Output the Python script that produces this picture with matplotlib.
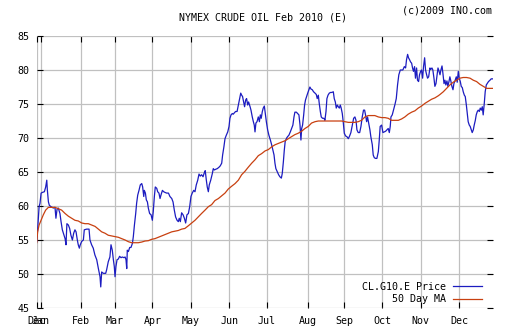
import matplotlib
matplotlib.use("Agg")
import matplotlib.pyplot as plt

# ========================== 資料 ========================== #
# x = trading-day index from the first bar (late Dec 2008)
price_day = [
    0, 0.5, 1.3, 1.8, 2.4, 3.1, 4.2, 4.9, 5.5, 5.8,
    6.4, 6.9, 7.8, 9.1, 10.0, 10.5, 11.1, 11.8, 12.7, 13.3,
    14.0, 14.9, 15.5, 16.0, 16.5, 17.3, 18.0, 18.7, 19.5, 20.2,
    20.9, 21.5, 22.2, 22.7, 23.3, 23.8, 24.6, 25.5, 26.0, 27.3,
    28.6, 29.1, 30.0, 30.9, 31.8, 32.8, 33.7, 34.6, 35.0, 35.5,
    36.4, 37.7, 38.2, 39.1, 40.0, 40.6, 41.3, 41.9, 42.4,
    42.8, 43.3, 43.9, 44.6, 45.3, 46.1, 46.8, 47.7, 48.3, 48.8,
    49.2, 49.5, 50.1, 50.8, 51.5, 52.3, 52.8, 53.4, 54.1, 54.6,
    55.2, 55.9, 56.6, 57.4, 57.9, 58.5, 58.8, 59.4, 59.9, 60.5,
    61.0, 61.7, 62.5, 63.2, 63.7, 64.3, 64.8, 65.6, 66.1, 66.8,
    67.4, 67.9, 68.7, 69.4, 70.1, 71.0, 72.0, 72.8, 73.8, 74.5,
    75.2, 75.9, 76.7, 77.4, 77.9, 78.5, 79.2, 80.0, 80.7, 81.4,
    82.1, 82.9, 83.6, 84.3, 85.0, 85.8,
    86.5, 87.2, 88.0, 88.7, 89.4, 90.1, 90.9, 91.6, 92.1, 92.7,
    93.2, 93.8, 94.3, 95.1, 96.0, 96.5, 97.1, 97.8, 98.7, 99.6,
    100.3, 101.1, 101.6, 102.3, 102.9, 103.6, 104.4, 105.1, 105.6, 106.2,
    106.9, 107.4, 108.0, 108.7, 109.5, 110.2, 110.7, 111.5, 112.0, 112.5,
    113.1, 113.6, 114.2, 114.7, 115.3, 115.8, 116.6, 117.1, 117.8, 118.4,
    118.9, 119.3, 119.8, 120.4, 121.1, 121.7, 122.2, 122.7, 123.3, 123.8,
    124.4, 124.9, 125.5, 126.2, 126.9, 127.7, 128.4, 129.1, 129.7,
    130.2, 130.7, 131.5, 132.2, 132.9, 133.7, 134.2, 134.8, 135.3, 135.8,
    136.6, 137.1, 137.8, 138.6, 139.3, 140.0, 140.6, 141.1, 141.9, 142.6,
    143.3, 143.9, 144.4, 144.8, 145.3, 145.9, 146.4, 146.9, 147.5, 148.1,
    148.8, 149.3, 149.9, 150.6, 151.3, 152.1, 152.8, 153.3, 153.9, 154.4,
    155.0, 155.5, 156.2, 157.0, 157.5, 158.1, 158.6, 159.2, 159.9, 160.6,
    161.3, 162.1, 162.6, 163.2, 163.7, 164.3, 164.8, 165.4, 165.9, 166.4,
    167.0, 167.5, 168.1, 168.8, 169.5, 170.3, 171.0, 171.7, 172.5, 173.2,
    173.9, 174.5, 175.0, 175.7, 176.5, 177.2, 177.9, 178.6, 179.2, 179.7,
    180.3, 180.8, 181.6, 182.1, 182.6, 183.4, 183.9, 184.5, 185.2, 185.9,
    186.7, 187.2, 187.7, 188.5, 189.2, 189.9, 190.7, 191.4, 192.1, 192.7,
    193.2, 193.6, 194.3, 195.0, 195.8, 196.5, 197.2, 197.9, 198.7, 199.4,
    200.1, 200.9, 201.6, 202.1, 202.7, 203.2, 203.8, 204.3, 204.9, 205.4,
    205.9, 206.5, 207.0, 207.6, 208.1, 208.7, 209.2, 209.8, 210.3, 210.9,
    211.4, 212.0, 212.5, 213.1, 213.6, 214.2,
    214.9, 215.4, 216.0, 216.5, 217.1, 217.6, 218.2, 218.7, 219.3, 219.8,
    220.4, 220.9, 221.5, 222.0, 222.6, 223.1, 223.6, 224.2, 224.7, 225.3,
    225.8, 226.4, 226.9, 227.5, 228.0, 228.7, 229.3, 229.8, 230.4, 230.9,
    231.5, 232.0, 232.6, 233.1, 233.7, 234.2, 234.8, 235.3, 235.8, 236.4,
    236.9, 237.5, 238.0, 238.6, 239.1, 239.7, 240.2, 240.8, 241.3, 241.9,
    242.4, 243.0, 243.5, 244.0, 244.6, 245.1, 245.7, 246.2, 246.9, 247.7,
    248.4, 249.1,
]
price_val = [
    54.75, 56.5, 59.9, 60.4, 61.9, 62.0, 62.1, 62.8, 63.8, 62.4,
    60.6, 60.1, 59.9, 59.7, 59.8, 58.2, 59.5, 59.7, 58.9, 57.7,
    56.5, 55.7, 55.2, 54.3, 57.4, 57.2, 56.7, 55.7, 55.0, 56.0,
    56.5, 56.2, 55.0, 54.3, 53.8, 54.3, 54.8, 55.0, 56.5, 56.6,
    56.6, 55.0, 54.3, 53.8, 52.8, 52.1, 50.8, 49.6, 48.1, 50.3,
    50.1, 50.1, 50.6, 51.8, 52.5, 54.3, 53.5, 52.1, 51.1,
    49.6, 51.1, 52.1, 52.2, 52.6, 52.4, 52.5, 52.4, 52.5, 52.1,
    50.8, 53.5, 53.3, 53.9, 53.9, 54.5, 55.5, 57.2, 58.9, 60.4,
    61.6, 62.3, 63.1, 63.3, 62.8, 61.4, 62.3, 61.9, 60.9, 60.6,
    59.7, 58.9, 58.7, 57.9, 59.2, 61.4, 62.8, 62.6, 62.1, 61.9,
    61.1, 61.6, 62.3, 62.1, 62.0, 61.9, 61.9, 61.4, 61.1, 60.6,
    59.4, 58.4, 57.9, 57.7, 58.2, 57.7, 59.0, 58.7, 58.2, 57.5,
    58.7, 58.9, 59.9, 61.4, 61.9, 62.3,
    62.1, 63.1, 63.8, 64.7, 64.4, 64.6, 64.3, 64.9, 65.2, 63.8,
    62.8, 62.1, 63.1, 63.8, 64.8, 65.5, 65.3, 65.4, 65.5, 65.7,
    65.9, 66.3, 67.5, 68.7, 69.9, 70.4, 70.9, 71.7, 72.9, 73.4,
    73.6, 73.5, 73.7, 73.9, 73.9, 74.85, 75.6, 76.6, 76.3, 76.1,
    75.3, 74.6, 75.6, 75.8, 74.85, 75.3, 74.6, 74.1, 73.1, 72.4,
    71.9, 70.9, 72.2, 72.4, 73.1, 72.4, 73.4, 72.9, 73.9, 74.4,
    74.7, 73.6, 72.4, 71.2, 70.4, 69.7, 69.0, 68.2, 67.5,
    66.3, 65.5, 65.0, 64.6, 64.3, 64.1, 64.8, 66.5, 68.2, 69.5,
    70.0, 70.2, 70.4, 70.9, 71.4, 71.9, 73.1, 73.8, 73.8, 73.6,
    73.4, 71.9, 69.7, 71.4, 71.9, 73.4, 74.85, 75.6, 76.1, 76.6,
    77.1, 77.5, 77.2, 77.1, 76.8, 76.6, 76.4, 75.8, 76.3, 75.1,
    73.9, 73.1, 72.9, 72.9, 72.6, 73.9, 75.8, 76.3, 76.6, 76.7,
    76.7, 76.8, 75.8, 75.3, 74.4, 74.85, 74.6, 74.4, 74.85, 74.4,
    73.6, 72.4, 70.7, 70.3, 70.2, 69.9, 70.3, 70.8, 71.9, 72.9,
    73.1, 72.6, 71.2, 70.8, 70.8, 71.7, 73.1, 74.1, 74.1, 73.4,
    72.4, 73.1, 71.9, 71.2, 70.2, 69.0, 67.5, 67.1, 67.0, 67.0,
    68.0, 69.7, 71.7, 71.9, 70.8, 70.9, 71.0, 71.2, 71.4, 70.8,
    71.7, 73.1, 73.4, 74.1, 74.95, 75.8, 77.8, 79.3, 80.0, 80.0,
    80.0, 80.5, 80.3, 81.5, 82.3, 81.8, 81.5, 81.2, 81.0, 80.3,
    79.8, 80.5, 78.8, 80.3, 78.5, 78.3, 79.3, 79.8, 80.0, 78.8,
    80.5, 81.8, 80.0, 79.3, 78.8, 79.0,
    80.3, 80.1, 80.3, 80.0, 78.8, 77.6, 78.0, 79.0, 80.3, 79.9,
    79.3, 80.0, 80.6, 79.5, 78.0, 78.5, 77.8, 78.4, 77.6, 78.3,
    79.0, 78.3, 77.6, 77.1, 78.0, 78.5, 79.0, 78.2, 79.8, 78.8,
    78.3, 77.6, 77.4, 76.8, 76.3, 76.1, 74.85, 73.6, 72.4, 71.9,
    71.7, 71.2, 70.8, 71.2, 71.9, 72.6, 73.4, 73.9, 74.1, 73.9,
    74.4, 74.1, 74.6, 73.4, 75.1, 76.8, 77.8, 78.0, 78.3, 78.5,
    78.7, 78.7,
]

ma_day = [
    0, 0.5, 1.3, 2.4, 3.6, 4.9, 6.4, 8.2, 10.0, 11.8,
    13.6, 15.5, 17.3, 19.1, 20.9, 22.7, 24.6, 26.4, 28.2, 30.0,
    31.9, 33.7, 35.5, 37.3, 39.1, 41.0, 42.8, 44.6, 46.4, 48.3,
    50.1, 51.9, 53.7, 55.5, 57.4, 59.2, 61.0, 62.8, 64.6, 66.5,
    68.3, 70.1, 71.9, 73.8, 75.6, 77.4, 79.2, 81.0, 82.9, 84.7,
    86.5, 88.3, 90.1, 92.0, 93.8, 95.6, 97.4, 99.3, 101.1, 102.9,
    104.7, 106.5, 108.4, 110.2, 112.0, 113.8, 115.6, 117.5, 119.3, 121.1,
    122.9, 124.8, 126.6, 128.4, 130.2, 132.0, 133.8, 135.7, 137.5, 139.3,
    141.1, 142.9, 144.8, 146.6, 148.4, 150.2, 152.1, 153.9, 155.7, 157.5,
    159.3, 161.2, 163.0, 164.8, 166.6, 168.4, 170.3, 172.1, 173.9, 175.7,
    177.5, 179.4, 181.2, 183.0, 184.8, 186.7, 188.5, 190.3, 192.1, 193.9,
    195.8, 197.6, 199.4, 201.2, 203.0, 204.9, 206.7, 208.5, 210.3, 212.2,
    214.0, 215.8, 217.6, 219.4, 220.4, 222.2, 224.0, 225.8, 227.6, 229.5,
    231.3, 233.1, 234.9, 236.8, 238.6, 240.4, 242.2, 244.0, 245.9, 247.7,
    249.1,
]
ma_val = [
    54.6, 56.2, 57.2, 57.9, 58.7, 59.4, 59.8, 59.8, 59.8, 59.6,
    59.4, 58.9, 58.5, 58.2, 57.9, 57.8, 57.5, 57.4, 57.4, 57.2,
    57.0, 56.6, 56.2, 56.0, 55.7, 55.6, 55.5, 55.4, 55.2, 55.0,
    54.75, 54.6, 54.6, 54.6, 54.7, 54.85, 54.9, 55.1, 55.2, 55.4,
    55.6, 55.8, 56.0, 56.2, 56.3, 56.4, 56.6, 56.7, 57.1, 57.5,
    57.9, 58.4, 58.9, 59.4, 59.9, 60.2, 60.8, 61.1, 61.5, 61.9,
    62.5, 62.9, 63.3, 63.8, 64.6, 65.1, 65.7, 66.3, 66.8, 67.4,
    67.7, 68.1, 68.3, 68.7, 69.0, 69.2, 69.4, 69.6, 69.9, 70.2,
    70.5, 70.7, 71.0, 71.4, 71.7, 72.2, 72.4, 72.5, 72.5, 72.5,
    72.5, 72.5, 72.5, 72.5, 72.5, 72.4, 72.3, 72.3, 72.3, 72.4,
    72.6, 73.1, 73.3, 73.3, 73.3, 73.1, 73.0, 73.0, 72.9, 72.6,
    72.6, 72.6, 72.8, 73.1, 73.5, 73.8, 74.0, 74.4, 74.7, 75.1,
    75.4, 75.7, 75.9, 76.2, 76.4, 76.8, 77.3, 77.8, 78.2, 78.5,
    78.8, 78.9, 78.9, 78.8, 78.5, 78.3, 77.9, 77.6, 77.3, 77.3,
    77.3,
]

month_pos = [0, 2.35, 24.0, 42.8, 63.2, 84.2, 105.3, 125.7, 148.4, 168.1,
             188.9, 209.8, 230.8]
month_lbl = ["Dec", "Jan", "Feb", "Mar", "Apr", "May", "Jun", "Jul", "Aug",
             "Sep", "Oct", "Nov", "Dec"]
y_ticks = [45, 50, 55, 60, 65, 70, 75, 80, 85]

# ========================== 畫圖 ========================== #
plt.rcParams["font.family"] = ["DejaVu Sans Mono"]
fs = 7.2

fig = plt.figure(figsize=(5.12, 3.35), dpi=100)
ax = fig.add_axes([0.0717, 0.0806, 0.8906, 0.8119])

ax.plot(price_day, price_val, color="#1c1cc0", lw=0.9, label="CL.G10.E Price")
ax.plot(ma_day, ma_val, color="#c84010", lw=0.9, label="50 Day MA")

ax.set_xlim(0, 249.2)
ax.set_ylim(45, 85)
ax.set_xticks(month_pos)
ax.set_xticklabels(month_lbl)
ax.set_yticks(y_ticks)
ax.grid(True, color="#c0c0c0", lw=0.9)
ax.set_axisbelow(True)
for s in ax.spines.values():
    s.set_visible(False)
ax.tick_params(direction="in", length=4, width=0.8, color="black",
               top=True, right=True, labelsize=fs)
ax.tick_params(axis="x", pad=6)
ax.tick_params(axis="y", pad=5)

ax.legend(loc="lower right", bbox_to_anchor=(0.9408, 0.092),
          bbox_transform=fig.transFigure, frameon=False, markerfirst=False,
          fontsize=fs, handlelength=2.9, handletextpad=0.7,
          labelspacing=0.25, borderpad=0, borderaxespad=0)

fig.text(0.5146, 0.949, "NYMEX CRUDE OIL Feb 2010 (E)", ha="center",
         va="center", fontsize=fs)
fig.text(0.961, 0.970, "(c)2009 INO.com", ha="right", va="center",
         fontsize=fs)

fig.savefig("out.png", dpi=100)
